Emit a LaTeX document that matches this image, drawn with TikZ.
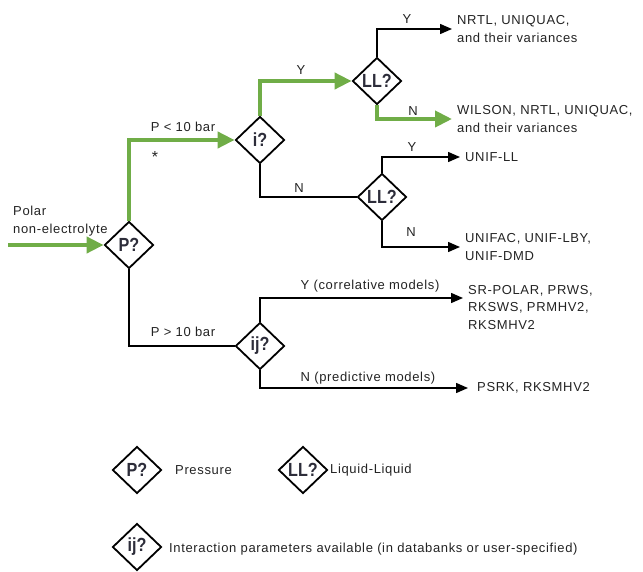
\documentclass[tikz,border=0pt]{standalone}
\usepackage{fontspec}
\setmainfont{Liberation Sans}[LetterSpace=5]
\newfontfamily\diafont{Liberation Sans}[FakeStretch=0.85]
\usetikzlibrary{shapes.geometric,arrows.meta}
\definecolor{grn}{RGB}{112,173,71}
\definecolor{ink}{RGB}{35,35,35}
\definecolor{diaink}{RGB}{45,45,58}
\begin{document}
\begin{tikzpicture}[x=1pt,y=-1pt,
  dia/.style={diamond, draw=black, line width=1.8pt, fill=white,
    minimum width=49pt, minimum height=47pt, inner sep=0pt,
    font=\diafont\fontsize{19}{19}\selectfont\bfseries, text=diaink},
  lbl/.style={font=\fontsize{13}{17.5}\selectfont, text=ink, inner sep=0pt},
  res/.style={lbl, anchor=west, align=left, inner xsep=5pt, inner ysep=0pt},
  blk/.style={line width=1.5pt, draw=black},
  blkarrow/.style={blk, -{Triangle[length=12pt,width=10pt]}},
  grnarrow/.style={line width=4pt, draw=grn, -{Triangle[length=17pt,width=16pt]}}]
\useasboundingbox (0,0) rectangle (643,572);

% decision diamonds
\node[dia] (P) at (129,245) {P?};
\node[dia] (I1) at (260,140) {i?};
\node[dia] (LL1) at (377,81) {LL?};
\node[dia] (LL2) at (382,197) {LL?};
\node[dia] (IJ) at (260,346) {ij?};

% input
\coordinate (in) at (8,245);
\node[lbl, anchor=west, align=left] (pol) at (13,221) {Polar\\non-electrolyte};

% results
\node[res] (r1) at (452,29) {NRTL, UNIQUAC,\\and their variances};
\node[res] (r2) at (452,119) {WILSON, NRTL, UNIQUAC,\\and their variances};
\node[res] (r3) at (460,157) {UNIF-LL};
\node[res] (r4) at (460,247) {UNIFAC, UNIF-LBY,\\UNIF-DMD};
\coordinate (a5) at (463,298);
\node[res, anchor=north west] (r5) at (463,285) {SR-POLAR, PRWS,\\RKSWS, PRMHV2,\\RKSMHV2};
\node[res, inner xsep=9pt] (r6) at (468,388) {PSRK, RKSMHV2};

% connectors
\draw[grnarrow] (in) -- (P.west);
\draw[grnarrow] (P.north) |- (I1.west);
\draw[grnarrow] (I1.north) |- (LL1.west);
\draw[blkarrow] (LL1.north) |- (r1.west);
\draw[grnarrow] (LL1.south) |- (r2.west);
\draw[blk] (I1.south) |- (LL2.west);
\draw[blkarrow] (LL2.north) |- (r3.west);
\draw[blkarrow] (LL2.south) |- (r4.west);
\draw[blk] (P.south) |- (IJ.west);
\draw[blkarrow] (IJ.north) |- (a5);
\draw[blkarrow] (IJ.south) |- (r6.west);

% connector labels
\node[lbl] (lp1) at (183,127) {P < 10 bar};
\node[lbl, font=\fontsize{16}{16}\selectfont] (ast) at (155,157) {*};
\node[lbl] (ly1) at (301,70) {Y};
\node[lbl] (ly2) at (407,19) {Y};
\node[lbl] (ln2) at (413,111) {N};
\node[lbl] (ln1) at (299,188) {N};
\node[lbl] (ly3) at (412,147) {Y};
\node[lbl] (ln3) at (411,232) {N};
\node[lbl] (lp2) at (183,332) {P > 10 bar};
\node[lbl] (ly4) at (370,286) {Y (correlative models)};
\node[lbl] (ln4) at (368,378) {N (predictive models)};

% legend
\node[dia] (kP) at (137,470) {P?};
\node[lbl, anchor=west] (kPt) at (175,470) {Pressure};
\node[dia] (kLL) at (303,470) {LL?};
\node[lbl, anchor=west] (kLLt) at (330,470) {Liquid-Liquid};
\node[dia] (kIJ) at (137,547) {ij?};
\node[lbl, anchor=west] (kIJt) at (169,549) {Interaction parameters available (in databanks or user-specified)};
\end{tikzpicture}
\end{document}
